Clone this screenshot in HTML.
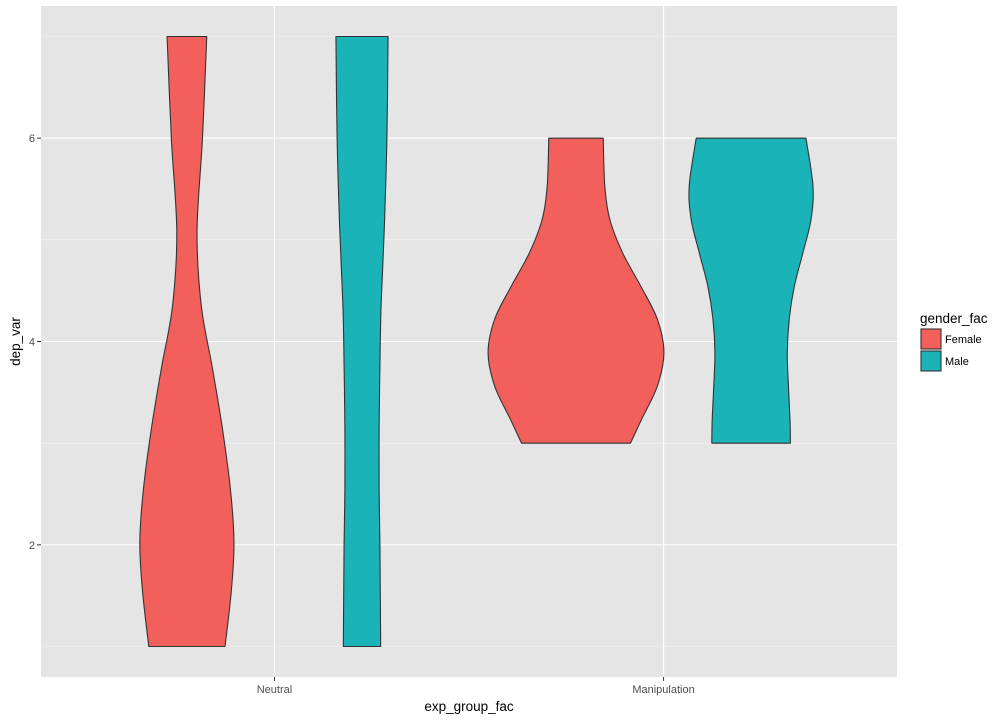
<!DOCTYPE html>
<html><head><meta charset="utf-8"><style>
body{margin:0;background:#fff;}
svg{display:block;font-family:"Liberation Sans",sans-serif;}
</style></head><body>
<svg id="chart" width="1008" height="720"></svg>
<script>
const categories=["Neutral","Manipulation"];
const groups=["Female","Male"];
const colors=["#F35F5B","#19B3B8"];
const yTicks=[2,4,6];
// violin profiles: y values and half-widths (x-axis units)
const fnY=[7,6.0,5.08,4.35,3.75,3.15,2.54,2.02,1.54,1];
const fnW=[0.051,0.040,0.026,0.037,0.065,0.091,0.112,0.121,0.114,0.098];
const mnY=[7,6.0,5.08,4.35,3.75,3.15,2.54,2.02,1];
const mnW=[0.067,0.064,0.057,0.049,0.046,0.044,0.044,0.046,0.048];
const fmY=[6,5.53,5.2,4.87,4.54,4.22,3.89,3.56,3.23,3];
const fmW=[0.070,0.074,0.087,0.120,0.167,0.209,0.226,0.209,0.168,0.140];
const mmY=[6,5.53,5.2,4.87,4.54,4.22,3.89,3.56,3.23,3];
const mmW=[0.141,0.159,0.154,0.133,0.111,0.098,0.093,0.096,0.100,0.101];
const violins=[{cat:0,g:0,y:fnY,w:fnW},{cat:0,g:1,y:mnY,w:mnW},{cat:1,g:0,y:fmY,w:fmW},{cat:1,g:1,y:mmY,w:mmW}];

const NS="http://www.w3.org/2000/svg";
const svg=document.getElementById('chart');
const P={l:41,r:897,t:6,b:677};
const xMin=0.4,xMax=2.6,yMin=0.7,yMax=7.3;
const xs=v=>P.l+(v-xMin)/(xMax-xMin)*(P.r-P.l);
const ys=v=>P.b-(v-yMin)/(yMax-yMin)*(P.b-P.t);
const unit=xs(1)-xs(0);
function el(t,a,p){const e=document.createElementNS(NS,t);for(const k in a)e.setAttribute(k,a[k]);(p||svg).appendChild(e);return e;}

const panel=el('rect',{x:P.l,y:P.t,width:P.r-P.l,height:P.b-P.t,fill:'#E5E5E5'});


for(let v=1;v<=7;v+=2){const g=el('line',{x1:P.l,x2:P.r,y1:ys(v),y2:ys(v),stroke:'#F2F2F2','stroke-width':0.6});

}
yTicks.forEach(v=>{const g=el('line',{x1:P.l,x2:P.r,y1:ys(v),y2:ys(v),stroke:'#fff','stroke-width':1.1});


const t=el('line',{x1:P.l-4,x2:P.l,y1:ys(v),y2:ys(v),stroke:'#333','stroke-width':1});


const l=el('text',{x:P.l-6,y:ys(v)+4,'text-anchor':'end','font-size':11,fill:'#4d4d4d'});l.textContent=v;

});
categories.forEach((c,i)=>{const x=xs(i+1);
const g=el('line',{x1:x,x2:x,y1:P.t,y2:P.b,stroke:'#fff','stroke-width':1.1});


const t=el('line',{x1:x,x2:x,y1:P.b,y2:P.b+4,stroke:'#333','stroke-width':1});


const l=el('text',{x:x,y:P.b+16,'text-anchor':'middle','font-size':11,fill:'#4d4d4d'});l.textContent=c;

});

function smooth(pts){let d='';for(let i=0;i<pts.length-1;i++){const p0=pts[Math.max(i-1,0)],p1=pts[i],p2=pts[i+1],p3=pts[Math.min(i+2,pts.length-1)];
const c1=[p1[0]+(p2[0]-p0[0])/6,p1[1]+(p2[1]-p0[1])/6],c2=[p2[0]-(p3[0]-p1[0])/6,p2[1]-(p3[1]-p1[1])/6];
d+=` C${c1[0]},${c1[1]} ${c2[0]},${c2[1]} ${p2[0]},${p2[1]}`;}return d;}
violins.forEach(v=>{const cx=xs(v.cat+1+(v.g===0?-0.225:0.225));
const right=v.y.map((y,i)=>[cx+v.w[i]*unit,ys(y)]);
const left=v.y.map((y,i)=>[cx-v.w[i]*unit,ys(y)]).reverse();
let d=`M${left[left.length-1][0]},${left[left.length-1][1]} L${right[0][0]},${right[0][1]}`+smooth(right)+` L${left[0][0]},${left[0][1]}`+smooth(left)+'Z';
const p=el('path',{d:d,fill:colors[v.g],stroke:'#333','stroke-width':1.1,'stroke-linejoin':'round'});

});

const xt=el('text',{x:(P.l+P.r)/2,y:711,'text-anchor':'middle','font-size':13.5,fill:'#000'});xt.textContent='exp_group_fac';


const yt=el('text',{x:0,y:0,'text-anchor':'middle','font-size':13.5,fill:'#000',transform:`translate(20,${(P.t+P.b)/2}) rotate(-90)`});yt.textContent='dep_var';


const lt=el('text',{x:920,y:323,'font-size':13.5,fill:'#000'});lt.textContent='gender_fac';


groups.forEach((g,i)=>{const y=328+i*22;
const k=el('rect',{x:921,y:y+1,width:20,height:20,fill:colors[i],stroke:'#333','stroke-width':1.1});


const l=el('text',{x:945,y:y+15,'font-size':11,fill:'#000'});l.textContent=g;

});
</script>
</body></html>
